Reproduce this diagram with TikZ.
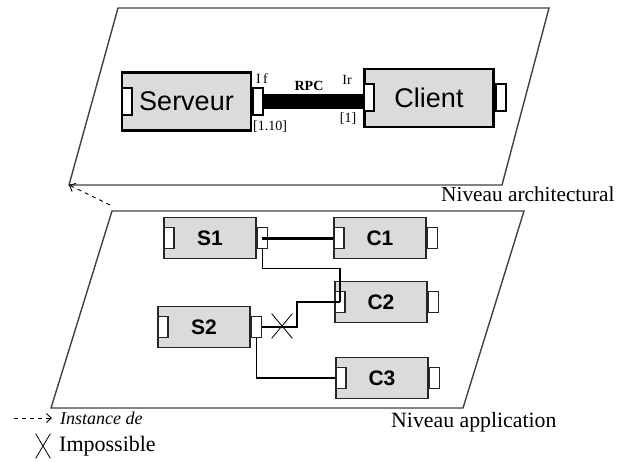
\documentclass[tikz,border=0pt]{standalone}
\usepackage{fontspec}
\setmainfont{Liberation Serif}
\setsansfont{Liberation Sans}
\usepackage{tikz}
\usetikzlibrary{arrows.meta,positioning,calc,shapes.misc}

\definecolor{boxgray}{gray}{0.86}
\definecolor{planegray}{gray}{0.25}

\begin{document}
\begin{tikzpicture}[x=1pt,y=-1pt,
        plane/.style={draw=planegray,line width=1.4pt},
        bigcomp/.style={draw,line width=2.4pt,fill=boxgray,minimum width=129pt,minimum height=58pt,inner sep=0pt,font=\fontsize{27}{30}\selectfont\sffamily},
        bigport/.style={draw,line width=2pt,fill=white,minimum width=10pt,minimum height=27pt,inner sep=0pt},
        comp/.style={draw=black!85,line width=1.5pt,fill=boxgray,minimum width=92pt,minimum height=41pt,inner sep=0pt,font=\fontsize{21}{24}\selectfont\sffamily\bfseries},
        port/.style={draw=black!85,line width=1.4pt,fill=white,minimum width=10pt,minimum height=21pt,inner sep=0pt},
        wire/.style={draw,line width=1.5pt},
        small/.style={font=\fontsize{14}{16}\selectfont,inner sep=1pt},
        level/.style={font=\fontsize{21.3}{24}\selectfont,inner sep=0pt,anchor=west},
        inst/.style={dashed,dash pattern=on 4pt off 4pt,line width=0.9pt,-{Straight Barb[length=5pt,width=9pt]}},
        nogo/.style={cross out,draw,line width=0.8pt,inner sep=0pt}]

        \useasboundingbox (0,0) rectangle (617,462);

        % Planes
        \coordinate (archtl) at (118,8);
        \coordinate (archtr) at (549,8);
        \coordinate (archbr) at (502,185);
        \coordinate (archbl) at (69,185);
        \coordinate (appltl) at (112,211);
        \coordinate (appltr) at (524,211);
        \coordinate (applbr) at (463,408);
        \coordinate (applbl) at (51,408);
        \draw[plane] (archtl) -- (archtr) -- (archbr) -- (archbl) -- cycle;
        \draw[plane] (appltl) -- (appltr) -- (applbr) -- (applbl) -- cycle;
        \node[level] (archlbl) at (441,194) {Niveau architectural};
        \node[level,font=\fontsize{21.8}{24}\selectfont] (appllbl) at (391,422) {Niveau application};

        % Architectural level components
        \node[bigcomp] (srv) at (186.5,101.5) {Serveur};
        \node[bigcomp] (clt) at (429,98) {Client};
        \node[bigport,anchor=west] (srvin) at (srv.west) {};
        \node[bigport,anchor=west] (srvout) at (srv.east) {};
        \node[bigport,anchor=west] (cltin) at (clt.west) {};
        \node[bigport,anchor=west] (cltout) at (clt.east) {};

        % RPC binding
        \draw[line width=15pt] (srvout.east) -- (srvout.east -| cltin.west);
        \node[small] (iflbl) at (262,79) {I\,f};
        \node[small,font=\fontsize{14}{16}\selectfont\bfseries] (rpclbl) at (309,86) {RPC};
        \node[small] (irlbl) at (347,80) {Ir};
        \node[small] (srvcard) at (270,127) {[1.10]};
        \node[small] (cltcard) at (348,119) {[1]};

        % Application level components
        \node[comp] (s1) at (210,238) {S1};
        \node[comp] (c1) at (380,238) {C1};
        \node[comp] (c2) at (381,302) {C2};
        \node[comp] (s2) at (204,327) {S2};
        \node[comp] (c3) at (382,378) {C3};
        \foreach \c in {s1,c1,c2,s2,c3} {
            \node[port,anchor=west] (\c in) at (\c.west) {};
            \node[port,anchor=west] (\c out) at (\c.east) {};
        }

        % Application level bindings
        \draw[line width=3pt] (s1out.center) -- (s1out.center -| c1in.west);
        \draw[wire,line width=1.2pt] (s1out.south) -- ++(0,19) -| (c2in.center);
        \draw[wire,line width=2pt] (s2out.east) -- ++(35,0) |- (c2in.center);
        \draw[wire,line width=1.2pt] (s2out.south) |- (c3in.west);
        \node[nogo,minimum width=20pt,minimum height=24pt] (cross) at (282,326) {};

        % Instance de
        \draw[inst] (110,205) -- (archbl);

        % Legend
        \coordinate (instfrom) at (14,418);
        \coordinate (instto) at (52,418);
        \draw[inst] (instfrom) -- (instto);
        \node[anchor=west,inner sep=0pt,font=\fontsize{18}{20}\selectfont\itshape] (instlbl) at (60,418) {Instance de};
        \node[nogo,minimum width=14pt,minimum height=24pt] (legcross) at (43,446) {};
        \node[anchor=west,inner sep=0pt,font=\fontsize{22}{25}\selectfont] (implbl) at (59,446) {Impossible};
\end{tikzpicture}
\end{document}
